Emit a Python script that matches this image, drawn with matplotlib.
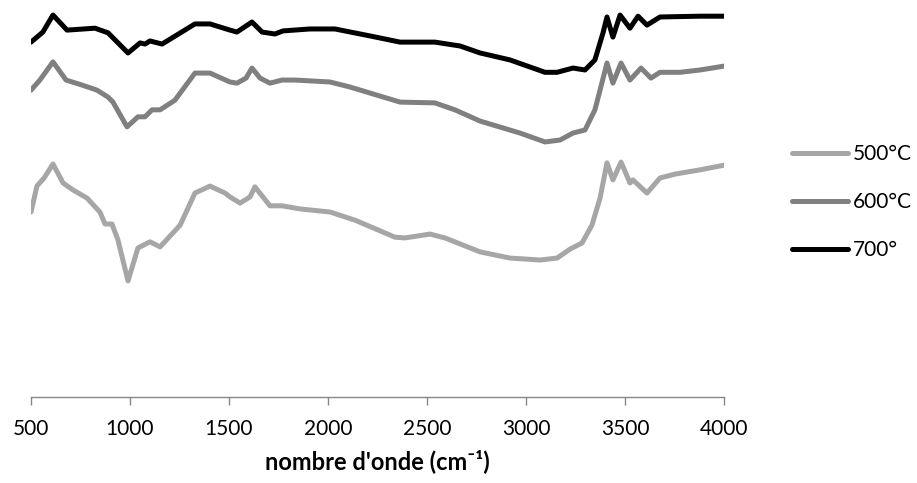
import matplotlib
matplotlib.use("Agg")
import matplotlib.pyplot as plt

plt.rcParams['font.family'] = ['Lato', 'DejaVu Sans']

# --- data (wavenumber cm-1, transmittance %) ---
wn_700 = [500, 560, 611, 682, 823, 889, 990, 1051, 1076, 1101, 1162, 1328, 1404,
          1505, 1540, 1616, 1667, 1732, 1773, 1909, 2035, 2212, 2364, 2540, 2667,
          2768, 2919, 3096, 3157, 3237, 3298, 3348, 3389, 3409, 3439, 3475, 3525,
          3566, 3611, 3677, 3879, 4000]
t_700 = [91.7, 94.3, 98.7, 94.8, 95.3, 94.1, 88.9, 91.5, 91.2, 92.0, 91.2, 96.4, 96.4,
         94.8, 94.3, 96.9, 94.3, 93.8, 94.6, 95.1, 95.1, 93.3, 91.7, 91.7, 90.7,
         88.9, 87.1, 83.9, 83.9, 85.0, 84.5, 87.1, 94.1, 98.2, 93.0, 98.7, 95.3,
         98.4, 96.1, 98.2, 98.4, 98.4]

wn_600 = [500, 545, 611, 677, 758, 833, 889, 914, 985, 1040, 1076, 1111, 1152, 1227,
          1328, 1404, 1505, 1540, 1586, 1616, 1657, 1707, 1768, 1833, 2010, 2111,
          2364, 2540, 2641, 2768, 2970, 3096, 3172, 3237, 3298, 3348, 3374, 3409,
          3439, 3480, 3525, 3581, 3631, 3677, 3778, 3879, 4000]
t_600 = [79.3, 81.9, 86.6, 81.9, 80.6, 79.3, 77.5, 76.2, 69.8, 72.4, 72.4, 74.2, 74.2, 76.7,
         83.7, 83.7, 81.4, 81.1, 82.4, 85.0, 82.4, 81.1, 81.9, 81.9, 81.4, 80.1,
         76.2, 76.0, 74.2, 71.3, 68.2, 65.9, 66.4, 68.2, 69.0, 74.2, 79.3, 86.3,
         81.1, 86.3, 81.9, 85.0, 82.4, 83.9, 83.9, 84.5, 85.5]

wn_500 = [500, 530, 566, 611, 662, 712, 783, 848, 874, 909, 939, 990, 1040, 1101, 1152,
          1253, 1328, 1404, 1480, 1505, 1556, 1606, 1631, 1707, 1768, 1859, 2010, 2136,
          2338, 2389, 2515, 2591, 2768, 2919, 3071, 3157, 3222, 3283, 3333, 3374,
          3409, 3439, 3480, 3525, 3540, 3611, 3677, 3753, 3879, 4000]
t_500 = [47.8, 54.5, 56.6, 60.2, 55.3, 53.5, 51.4, 47.8, 44.7, 44.7, 40.6, 30.0, 38.5, 40.1, 38.8,
         44.4, 52.7, 54.5, 52.7, 51.7, 50.1, 51.7, 54.3, 49.4, 49.4, 48.6, 47.8, 45.7,
         41.3, 41.1, 42.1, 41.1, 37.5, 35.9, 35.4, 35.9, 38.2, 39.8, 44.4, 51.4,
         60.5, 56.1, 60.7, 55.3, 56.1, 52.7, 56.6, 57.6, 58.7, 59.9]

series = [("500°C", wn_500, t_500, "#a6a6a6"),
          ("600°C", wn_600, t_600, "#808080"),
          ("700°", wn_700, t_700, "#000000")]

xticks = [500, 1000, 1500, 2000, 2500, 3000, 3500, 4000]

fig = plt.figure(figsize=(9.17, 4.83), dpi=100)
ax = fig.add_axes([31 / 917, 1 - 397 / 483, (724 - 31) / 917, (397 - 10) / 483])

for label, x, y, c in series:
    ax.plot(x, y, color=c, lw=3.6, label=label,
            solid_joinstyle="round", solid_capstyle="round")

ax.set_xlim(500, 4000)
ax.set_ylim(0, 100)
ax.set_xticks(xticks)
ax.set_yticks([])
for s in ("top", "right", "left"):
    ax.spines[s].set_visible(False)
ax.spines["bottom"].set_color("#868686")
ax.spines["bottom"].set_linewidth(1.0)
ax.tick_params(axis="x", direction="out", length=6, width=1.0, color="#868686",
               labelsize=15, pad=10, labelcolor="#000000")
ax.set_xlabel("nombre d'onde (cm\u207b\u00b9)", fontsize=17, fontweight="bold", labelpad=7)

fig.legend(loc="center left", bbox_to_anchor=(792 / 917, 1 - 202 / 483),
           frameon=False, fontsize=15, handlelength=2.7, handletextpad=0.2,
           labelspacing=1.35, borderpad=0, borderaxespad=0)

fig.savefig("out.png", dpi=100)
